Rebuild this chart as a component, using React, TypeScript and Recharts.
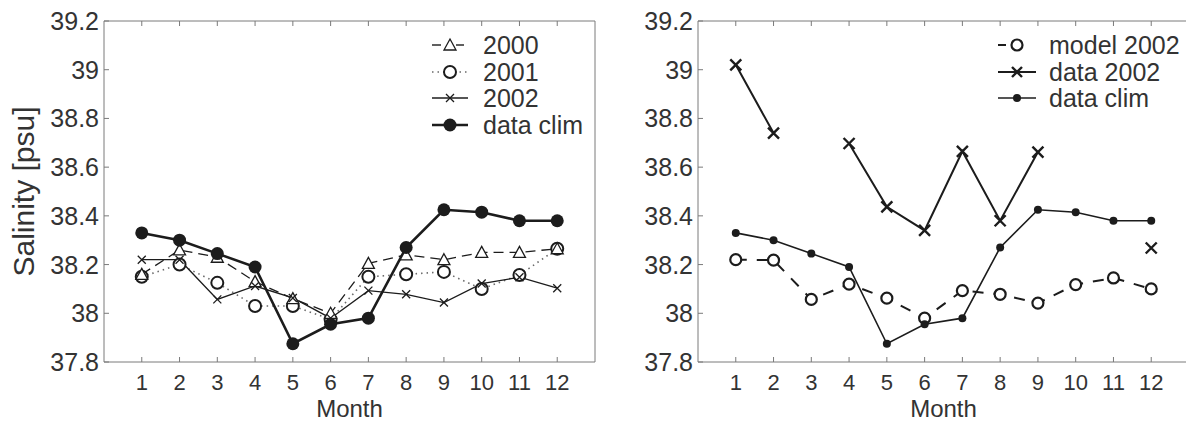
import React from "react"
import { LineChart, Line, XAxis, YAxis } from "recharts"

// months on the x axis
const months = [1, 2, 3, 4, 5, 6, 7, 8, 9, 10, 11, 12]
const yTicks = [37.8, 38, 38.2, 38.4, 38.6, 38.8, 39, 39.2]

// left panel
const clim = [38.33, 38.3, 38.245, 38.19, 37.875, 37.955, 37.98, 38.27, 38.425, 38.415, 38.38, 38.38]
const s2000 = [38.16, 38.26, 38.23, 38.13, 38.06, 38.0, 38.205, 38.24, 38.22, 38.25, 38.25, 38.265]
const s2001 = [38.15, 38.2, 38.125, 38.03, 38.03, 37.975, 38.15, 38.16, 38.17, 38.1, 38.157, 38.265]
const s2002 = [38.22, 38.22, 38.057, 38.112, 38.063, 37.98, 38.093, 38.078, 38.044, 38.122, 38.148, 38.103]

// right panel
const model2002 = [38.22, 38.218, 38.057, 38.12, 38.062, 37.98, 38.093, 38.078, 38.042, 38.118, 38.145, 38.1]
const data2002 = [39.02, 38.74, null, 38.697, 38.437, 38.34, 38.665, 38.38, 38.662, null, null, 38.268]

const leftData = months.map((m, i) => ({ m, clim: clim[i], s2000: s2000[i], s2001: s2001[i], s2002: s2002[i] }))
const rightData = months.map((m, i) => ({ m, model: model2002[i], data: data2002[i], clim: clim[i] }))

const INK = "#1c1c1c"
const TXT = "#333"
const AX = "#7a7a7a"
const FONT = "'Liberation Sans', Arial, sans-serif"

const fmt = (v: number) => String(Number(v.toFixed(1)))

const BottomTick = (p: any) => (
  <g>
    <line x1={p.x} y1={p.y} x2={p.x} y2={p.y - 5} stroke={AX} />
    <text x={p.x} y={p.y + 28} textAnchor="middle" fontSize={22} fill={TXT} fontFamily={FONT}>
      {p.payload.value}
    </text>
  </g>
)
const TopTick = (p: any) => <line x1={p.x} y1={p.y} x2={p.x} y2={p.y + 5} stroke={AX} />
const LeftTick = (p: any) => (
  <g>
    <line x1={p.x} y1={p.y} x2={p.x + 5} y2={p.y} stroke={AX} />
    <text x={p.x - 5} y={p.y} textAnchor="end" dominantBaseline="central" fontSize={25} fill={TXT} fontFamily={FONT}>
      {fmt(p.payload.value)}
    </text>
  </g>
)
const RightTick = (p: any) => <line x1={p.x} y1={p.y} x2={p.x - 5} y2={p.y} stroke={AX} />

// markers
const Tri = (p: any) => {
  if (p.cx == null || p.cy == null) return null
  const { cx, cy } = p
  return <path d={`M${cx},${cy - 6} L${cx + 6},${cy + 5} L${cx - 6},${cy + 5} Z`} fill="#fff" stroke={INK} strokeWidth={1.3} />
}
const Ring = (r: number, w: number) => (p: any) => {
  if (p.cx == null || p.cy == null) return null
  return <circle cx={p.cx} cy={p.cy} r={r} fill="#fff" stroke={INK} strokeWidth={w} />
}
const Dot = (r: number) => (p: any) => {
  if (p.cx == null || p.cy == null) return null
  return <circle cx={p.cx} cy={p.cy} r={r} fill={INK} stroke="none" />
}
const Cross = (s: number, w: number) => (p: any) => {
  if (p.cx == null || p.cy == null || p.value == null) return null
  const { cx, cy } = p
  return (
    <path d={`M${cx - s},${cy - s} L${cx + s},${cy + s} M${cx + s},${cy - s} L${cx - s},${cy + s}`} stroke={INK} strokeWidth={w} />
  )
}

function Frame({ ylabel }: { ylabel?: string }) {
  return (
    <>
      <XAxis
        dataKey="m"
        type="number"
        domain={[0, 13]}
        ticks={months}
        interval={0}
        height={61}
        tickSize={0}
        tickMargin={0}
        tickLine={false}
        axisLine={{ stroke: AX }}
        tick={<BottomTick />}
        label={{
          content: (lp: any) => {
            const vb = lp.viewBox
            return (
              <text x={vb.x + vb.width / 2} y={vb.y + 55} textAnchor="middle" fontSize={24} fill={TXT} fontFamily={FONT}>
                Month
              </text>
            )
          },
        }}
      />
      <XAxis
        xAxisId="top"
        orientation="top"
        dataKey="m"
        type="number"
        domain={[0, 13]}
        ticks={months}
        interval={0}
        height={1}
        tickSize={0}
        tickMargin={0}
        tickLine={false}
        axisLine={{ stroke: AX }}
        tick={<TopTick />}
      />
      <YAxis
        domain={[37.8, 39.2]}
        ticks={yTicks}
        interval={0}
        width={104}
        tickSize={0}
        tickMargin={0}
        tickLine={false}
        axisLine={{ stroke: AX }}
        tick={<LeftTick />}
        label={
          ylabel
            ? {
                content: (lp: any) => {
                  const vb = lp.viewBox
                  const cx = vb.x + 23
                  const cy = vb.y + vb.height / 2
                  return (
                    <text x={cx} y={cy} transform={`rotate(-90, ${cx}, ${cy})`} textAnchor="middle" dominantBaseline="central" fontSize={30} fill={TXT} fontFamily={FONT}>
                      {ylabel}
                    </text>
                  )
                },
              }
            : undefined
        }
      />
      <YAxis
        yAxisId="right"
        orientation="right"
        domain={[37.8, 39.2]}
        ticks={yTicks}
        interval={0}
        width={1}
        tickSize={0}
        tickMargin={0}
        tickLine={false}
        axisLine={{ stroke: AX }}
        tick={<RightTick />}
      />
    </>
  )
}

function LegendRow({ y, sample, label, tx }: { y: number; sample: React.ReactNode; label: string; tx: number }) {
  return (
    <g>
      {sample}
      <text x={tx} y={y} dominantBaseline="central" fontSize={25} fill={TXT} fontFamily={FONT}>
        {label}
      </text>
    </g>
  )
}

export default function App() {
  const margin = { top: 20, right: 9, left: 0, bottom: 0 }
  return (
    <div style={{ position: "absolute", left: 0, top: 0, width: 1186, height: 423, overflow: "hidden", background: "#fff" }}>
      <div style={{ position: "absolute", left: 0, top: 0 }}>
        <LineChart width={605} height={423} data={leftData} margin={margin}>
          {Frame({ ylabel: "Salinity [psu]" })}
          <Line dataKey="s2001" stroke="#6a6a6a" strokeWidth={1.6} strokeDasharray="1.5 4" dot={Ring(6, 2)} isAnimationActive={false} />
          <Line dataKey="s2000" stroke={INK} strokeWidth={1.3} strokeDasharray="10 6" dot={<Tri />} isAnimationActive={false} />
          <Line dataKey="s2002" stroke={INK} strokeWidth={1.3} dot={Cross(4, 1.3)} isAnimationActive={false} />
          <Line dataKey="clim" stroke={INK} strokeWidth={2.6} dot={Dot(6.5)} isAnimationActive={false} />
        </LineChart>
      </div>
      <div style={{ position: "absolute", left: 594, top: 0 }}>
        <LineChart width={605} height={423} data={rightData} margin={margin}>
          {Frame({})}
          <Line dataKey="model" stroke={INK} strokeWidth={2} strokeDasharray="11 10" dot={Ring(5.5, 2.2)} isAnimationActive={false} />
          <Line dataKey="data" stroke={INK} strokeWidth={2} dot={Cross(5.5, 2.4)} connectNulls={false} isAnimationActive={false} />
          <Line dataKey="clim" stroke={INK} strokeWidth={1.6} dot={Dot(4)} isAnimationActive={false} />
        </LineChart>
      </div>
      <svg width={1186} height={423} style={{ position: "absolute", left: 0, top: 0, pointerEvents: "none" }}>
        <LegendRow
          y={45}
          tx={483}
          label="2000"
          sample={
            <g>
              <line x1={432} y1={45} x2={441} y2={45} stroke={INK} strokeWidth={1.4} />
              <line x1={456} y1={45} x2={464} y2={45} stroke={INK} strokeWidth={1.4} />
              <path d="M450,39 L456,50 L444,50 Z" fill="#fff" stroke={INK} strokeWidth={1.3} />
            </g>
          }
        />
        <LegendRow
          y={72}
          tx={483}
          label="2001"
          sample={
            <g>
              <line x1={432} y1={72} x2={468} y2={72} stroke="#6a6a6a" strokeWidth={1.6} strokeDasharray="1.5 4" />
              <circle cx={450} cy={72} r={6} fill="#fff" stroke={INK} strokeWidth={2} />
            </g>
          }
        />
        <LegendRow
          y={98}
          tx={483}
          label="2002"
          sample={
            <g>
              <line x1={432} y1={98} x2={468} y2={98} stroke={INK} strokeWidth={1.4} />
              <path d="M446,94 L454,102 M454,94 L446,102" stroke={INK} strokeWidth={1.3} />
            </g>
          }
        />
        <LegendRow
          y={125}
          tx={483}
          label="data clim"
          sample={
            <g>
              <line x1={432} y1={125} x2={468} y2={125} stroke={INK} strokeWidth={2.6} />
              <circle cx={450} cy={125} r={6.5} fill={INK} />
            </g>
          }
        />
        <LegendRow
          y={45}
          tx={1049}
          label="model 2002"
          sample={
            <g>
              <line x1={998} y1={45} x2={1006} y2={45} stroke={INK} strokeWidth={2} />
              <circle cx={1017} cy={45} r={5.5} fill="#fff" stroke={INK} strokeWidth={2.2} />
            </g>
          }
        />
        <LegendRow
          y={72}
          tx={1049}
          label="data 2002"
          sample={
            <g>
              <line x1={998} y1={72} x2={1036} y2={72} stroke={INK} strokeWidth={2} />
              <path d="M1012,67 L1022,77 M1022,67 L1012,77" stroke={INK} strokeWidth={2.4} />
            </g>
          }
        />
        <LegendRow
          y={98}
          tx={1049}
          label="data clim"
          sample={
            <g>
              <line x1={998} y1={98} x2={1036} y2={98} stroke={INK} strokeWidth={1.6} />
              <circle cx={1017} cy={98} r={4} fill={INK} />
            </g>
          }
        />
      </svg>
    </div>
  )
}
